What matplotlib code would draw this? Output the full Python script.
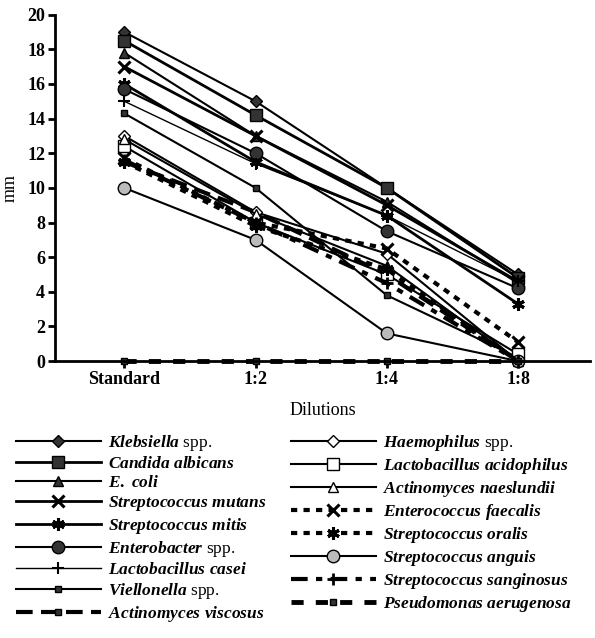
import matplotlib
matplotlib.use('agg')
import matplotlib.pyplot as plt

plt.rcParams['font.family'] = 'Liberation Serif'
plt.rcParams['mathtext.fontset'] = 'custom'
plt.rcParams['mathtext.rm'] = 'Liberation Serif:bold'
plt.rcParams['mathtext.it'] = 'Liberation Serif:italic:bold'

dilutions = ['Standard', '1:2', '1:4', '1:8']

names = [
    r'$\it{Klebsiella}$ spp.',
    r'$\it{Candida\ albicans}$',
    r'$\it{E.\ coli}$',
    r'$\it{Streptococcus\ mutans}$',
    r'$\it{Streptococcus\ mitis}$',
    r'$\it{Enterobacter}$ spp.',
    r'$\it{Lactobacillus\ casei}$',
    r'$\it{Viellonella}$ spp.',
    r'$\it{Actinomyces\ viscosus}$',
    r'$\it{Haemophilus}$ spp.',
    r'$\it{Lactobacillus\ acidophilus}$',
    r'$\it{Actinomyces\ naeslundii}$',
    r'$\it{Enterococcus\ faecalis}$',
    r'$\it{Streptococcus\ oralis}$',
    r'$\it{Streptococcus\ anguis}$',
    r'$\it{Streptococcus\ sanginosus}$',
    r'$\it{Pseudomonas\ aerugenosa}$',
]

klebsiella = [19.0, 15.0, 10.0, 5.0]
candida = [18.5, 14.2, 10.0, 4.8]
e_coli = [17.8, 13.0, 9.2, 4.5]
s_mutans = [17.0, 13.0, 9.0, 4.6]
s_mitis = [16.0, 11.5, 8.4, 3.3]
enterobacter = [15.7, 12.0, 7.5, 4.2]
l_casei = [15.0, 11.4, 8.4, 4.6]
viellonella = [14.3, 10.0, 3.8, 0.2]
a_viscosus = [11.5, 8.6, 5.0, 0.0]
haemophilus = [13.0, 8.6, 6.2, 0.0]
l_acidophilus = [12.4, 8.0, 5.0, 0.4]
a_naeslundii = [12.8, 8.5, 5.5, 0.0]
e_faecalis = [11.7, 8.0, 6.5, 1.1]
s_oralis = [11.5, 7.8, 5.3, 0.0]
s_anguis = [10.0, 7.0, 1.6, 0.0]
s_sanginosus = [11.6, 8.0, 4.5, 0.0]
pseudomonas = [0.0, 0.0, 0.0, 0.0]

series = [klebsiella, candida, e_coli, s_mutans, s_mitis, enterobacter, l_casei,
          viellonella, a_viscosus, haemophilus, l_acidophilus, a_naeslundii,
          e_faecalis, s_oralis, s_anguis, s_sanginosus, pseudomonas]

dk = '#333333'
styles = [
    dict(marker='D', ms=6, mfc=dk, ls='-', lw=1.5),
    dict(marker='s', ms=9, mfc=dk, ls='-', lw=2.0),
    dict(marker='^', ms=7, mfc=dk, ls='-', lw=1.5),
    dict(marker='x', ms=8, mew=2.2, ls='-', lw=2.0),
    dict(marker=(6, 2, 0), ms=9, mew=2.2, ls='-', lw=2.0),
    dict(marker='o', ms=9, mfc=dk, ls='-', lw=1.5),
    dict(marker='+', ms=9, mew=1.5, ls='-', lw=1.0),
    dict(marker='s', ms=5, mfc=dk, ls='-', lw=1.5),
    dict(marker='s', ms=5, mfc=dk, ls=(0, (4, 2)), lw=3.0),
    dict(marker='D', ms=6, mfc='white', ls='-', lw=1.5),
    dict(marker='s', ms=9, mfc='white', ls='-', lw=1.5),
    dict(marker='^', ms=7, mfc='white', ls='-', lw=1.5),
    dict(marker='x', ms=8, mew=2.2, ls=(0, (1.5, 1.5)), lw=3.0),
    dict(marker=(6, 2, 0), ms=9, mew=2.2, ls=(0, (1.5, 1.5)), lw=3.0),
    dict(marker='o', ms=9, mfc='#bbbbbb', ls='-', lw=1.5),
    dict(marker='+', ms=9, mew=2.0, ls=(0, (4, 2, 1.5, 2)), lw=3.0),
    dict(marker='s', ms=5, mfc=dk, ls=(0, (2.5, 2.5)), lw=3.5),
]

fig = plt.figure(figsize=(5.95, 6.38), dpi=100)
ax = fig.add_axes([0.092, 0.434, 0.9, 0.543])

x = list(range(len(dilutions)))
for vals, name, st in zip(series, names, styles):
    ax.plot(x, vals, color='black', mec='black', label=name, clip_on=False, **st)

ax.set_xlim(-0.53, 3.55)
ax.set_ylim(0, 20)
ax.set_yticks(range(0, 21, 2))
ax.set_xticks(x)
ax.set_xticklabels(dilutions)
for sp in ['top', 'right']:
    ax.spines[sp].set_visible(False)
for sp in ['left', 'bottom']:
    ax.spines[sp].set_linewidth(2.0)
ax.tick_params(width=2.0, length=5, labelsize=13, pad=2)
for lab in ax.get_xticklabels() + ax.get_yticklabels():
    lab.set_fontweight('bold')
ax.set_xlabel('Dilutions', fontsize=13, labelpad=10)
ax.set_ylabel('mm', fontsize=13, labelpad=6)

handles, labels = ax.get_legend_handles_labels()
fig.legend(handles, labels, ncol=2, loc='upper left', bbox_to_anchor=(0.015, 0.332),
           frameon=False, fontsize=12.5, handlelength=4.9, handletextpad=0.4,
           labelspacing=0.17, columnspacing=1.4, borderaxespad=0)

fig.savefig('out.png', dpi=100)
